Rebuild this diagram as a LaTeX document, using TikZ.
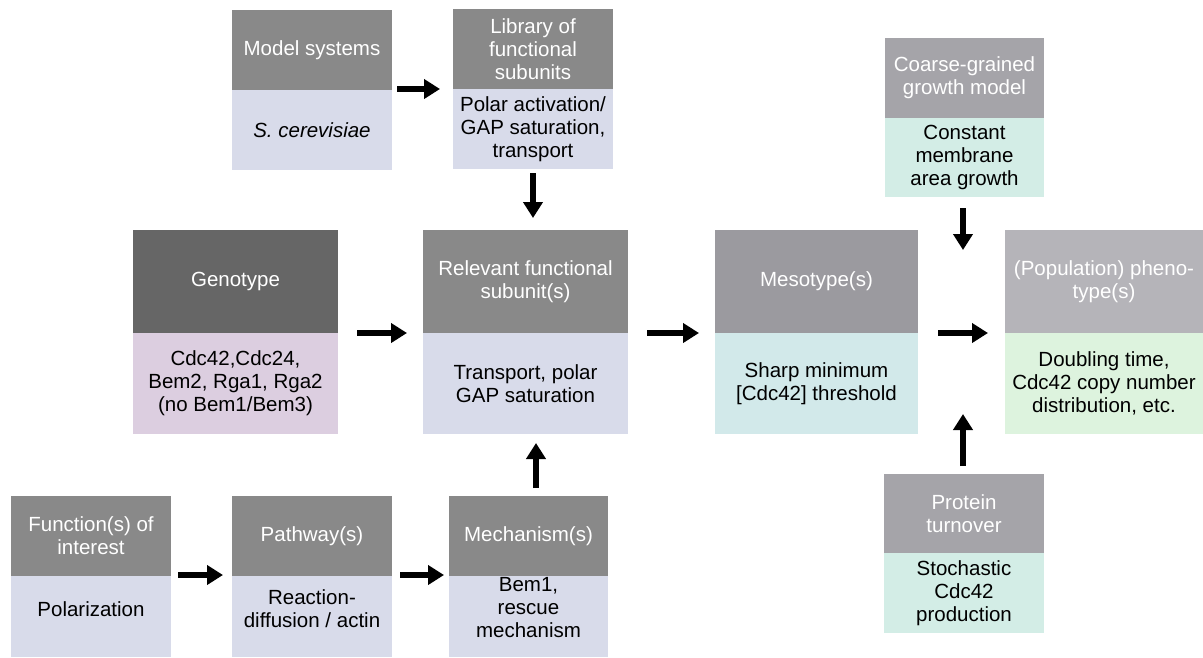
\documentclass[tikz,border=0pt]{standalone}
\usepackage{fontspec}
\setmainfont{Liberation Sans}
\usetikzlibrary{arrows.meta}
\definecolor{hdgray}{HTML}{898989}
\definecolor{hddark}{HTML}{666666}
\definecolor{hdmeso}{HTML}{9B9A9F}
\definecolor{hdpheno}{HTML}{B5B4B9}
\definecolor{hdside}{HTML}{A5A4A9}
\definecolor{bdlav}{HTML}{D8DBEA}
\definecolor{bdgeno}{HTML}{DCCEE0}
\definecolor{bdmeso}{HTML}{D2E9EA}
\definecolor{bdmint}{HTML}{D3EDE6}
\definecolor{bdgreen}{HTML}{DDF3DE}
\begin{document}
\begin{tikzpicture}[x=1pt,y=-1pt,
  txt/.style={font=\fontsize{20.5}{23}\selectfont, align=center, inner sep=0pt, outer sep=0pt},
  hd/.style={txt, text=white, anchor=north west},
  bd/.style={txt, text=black, anchor=north},
  arr/.style={line width=6pt, -{Triangle[length=16pt,width=19pt]}, black},
]
\fill[white] (0,0) rectangle (1203,657);
\useasboundingbox (0,0) rectangle (1203,657);

% top row
\node[hd, fill=hdgray, minimum width=160pt, minimum height=80pt] (modH) at (232,10) {Model systems};
\node[bd, fill=bdlav, minimum width=160pt, minimum height=80pt] (modB) at (modH.south) {\itshape S. cerevisiae};

\node[hd, fill=hdgray, minimum width=160pt, minimum height=80pt] (libH) at (453,9) {Library of\\functional\\subunits};
\node[bd, fill=bdlav, minimum width=160pt, minimum height=80pt] (libB) at (libH.south) {Polar activation/\\GAP saturation,\\transport};

\node[hd, fill=hdside, minimum width=159pt, minimum height=80pt] (cgH) at (885,38) {Coarse-grained\\growth model};
\node[bd, fill=bdmint, minimum width=159pt, minimum height=79pt] (cgB) at (cgH.south) {Constant\\membrane\\area growth};

% middle row
\node[hd, fill=hddark, minimum width=205pt, minimum height=103pt] (genH) at (133,230) {Genotype};
\node[bd, fill=bdgeno, minimum width=205pt, minimum height=101pt] (genB) at (genH.south) {Cdc42,Cdc24,\\Bem2, Rga1, Rga2\\(no Bem1/Bem3)};

\node[hd, fill=hdgray, minimum width=205pt, minimum height=103pt] (relH) at (423,230) {Relevant functional\\subunit(s)};
\node[bd, fill=bdlav, minimum width=205pt, minimum height=101pt] (relB) at (relH.south) {Transport, polar\\GAP saturation};

\node[hd, fill=hdmeso, minimum width=203pt, minimum height=103pt] (mesH) at (715,230) {Mesotype(s)};
\node[bd, fill=bdmeso, minimum width=203pt, minimum height=101pt] (mesB) at (mesH.south) {Sharp minimum\\{[}Cdc42{]} threshold};

\node[hd, fill=hdpheno, minimum width=198pt, minimum height=103pt] (phH) at (1005,230) {(Population) pheno-\\type(s)};
\node[bd, fill=bdgreen, minimum width=198pt, minimum height=101pt] (phB) at (phH.south) {Doubling time,\\Cdc42 copy number\\distribution, etc.};

% protein turnover
\node[hd, fill=hdside, minimum width=160pt, minimum height=79pt] (prH) at (884,474) {Protein\\turnover};
\node[bd, fill=bdmint, minimum width=160pt, minimum height=80pt] (prB) at (prH.south) {Stochastic\\Cdc42\\production};

% bottom row
\node[hd, fill=hdgray, minimum width=160pt, minimum height=80pt] (funH) at (11,496) {Function(s) of\\interest};
\node[bd, fill=bdlav, minimum width=160pt, minimum height=81pt] (funB) at (funH.south) {};
\node[txt] (funT) at ([yshift=7.5pt]funB.center) {Polarization};

\node[hd, fill=hdgray, minimum width=160pt, minimum height=80pt] (pathH) at (232,496) {Pathway(s)};
\node[bd, fill=bdlav, minimum width=160pt, minimum height=81pt] (pathB) at (pathH.south) {};
\node[txt] (pathT) at ([yshift=7.5pt]pathB.center) {Reaction-\\diffusion / actin};

\node[hd, fill=hdgray, minimum width=159pt, minimum height=80pt] (mechH) at (449,496) {Mechanism(s)};
\node[bd, fill=bdlav, minimum width=159pt, minimum height=81pt] (mechB) at (mechH.south) {};
\node[txt] (mechT) at ([yshift=8.5pt]mechB.center) {Bem1,\\rescue\\mechanism};

\coordinate (cgEnd) at (963,250);
\coordinate (prEnd) at (963,414);

% arrows
\draw[arr] ([xshift=5pt,yshift=1pt]modH.south east) -- ([xshift=-13pt,yshift=0pt]libH.south west);
\draw[arr] ([yshift=-4pt]libB.south) -- ([xshift=7.5pt,yshift=12pt]relH.north);
\draw[arr] ([xshift=19pt]genH.south east) -- ([xshift=-16pt]relH.south west);
\draw[arr] ([xshift=19pt]relH.south east) -- ([xshift=-16pt]mesH.south west);
\draw[arr] ([xshift=20pt]mesH.south east) -- ([xshift=-17pt]phH.south west);
\draw[arr] ([xshift=7pt,yshift=1pt]funH.south east) -- ([xshift=-9pt,yshift=1pt]pathH.south west);
\draw[arr] ([xshift=8pt,yshift=1pt]pathH.south east) -- ([xshift=-5pt,yshift=1pt]mechH.south west);
\draw[arr] ([xshift=7.5pt,yshift=8pt]mechH.north) -- ([xshift=10.5pt,yshift=-9pt]relB.south);
\draw[arr] ([xshift=-1.5pt,yshift=-11pt]cgB.south) -- (cgEnd);
\draw[arr] ([xshift=-1pt,yshift=8pt]prH.north) -- (prEnd);
\end{tikzpicture}
\end{document}
